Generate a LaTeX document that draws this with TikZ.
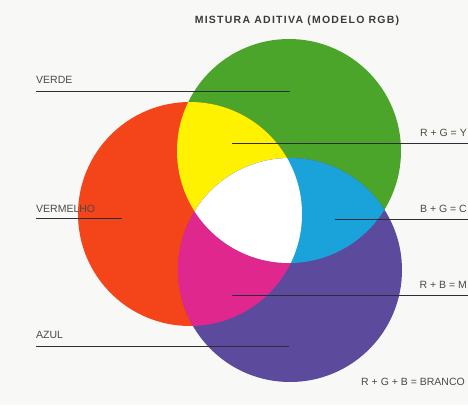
\documentclass[tikz,border=0pt]{standalone}
\usepackage{fontspec}
\setmainfont{Liberation Sans}
\definecolor{bg}{HTML}{F8F8F6}
\definecolor{cgreen}{HTML}{4CA52B}
\definecolor{cred}{HTML}{F4441A}
\definecolor{cblue}{HTML}{5C4A9C}
\definecolor{cyellow}{HTML}{FFF200}
\definecolor{ccyan}{HTML}{1AA3DB}
\definecolor{cmagenta}{HTML}{E0278E}
\definecolor{txt}{HTML}{4A4A4A}
\definecolor{ln}{HTML}{2E2E3A}
\begin{document}
\begin{tikzpicture}[x=1pt,y=-1pt,
  lbl/.style={inner sep=0pt,text=txt,font=\fontsize{10.5}{12}\selectfont},
  leader/.style={draw=ln,line width=0.8pt}]
\fill[bg] (0,0) rectangle (468,405);
\useasboundingbox (0,0) rectangle (468,405);
\coordinate (cg) at (289,151);
\coordinate (cr) at (190,214);
\coordinate (cb) at (290,270);
\def\rad{112pt}
\fill[cgreen] (cg) circle (\rad);
\fill[cred] (cr) circle (\rad);
\fill[cblue] (cb) circle (\rad);
\begin{scope}\clip (cr) circle (\rad); \fill[cyellow] (cg) circle (\rad);\end{scope}
\begin{scope}\clip (cr) circle (\rad); \fill[cmagenta] (cb) circle (\rad);\end{scope}
\begin{scope}\clip (cg) circle (\rad); \fill[ccyan] (cb) circle (\rad);\end{scope}
\begin{scope}\clip (cg) circle (\rad); \clip (cr) circle (\rad); \fill[white] (cb) circle (\rad);\end{scope}
% title
\node[inner sep=0pt,anchor=base,text=txt!80!black,font=\fontsize{10.5}{12}\selectfont\bfseries\addfontfeature{LetterSpace=12}] (title) at (297,23) {MISTURA ADITIVA (MODELO RGB)};
% left labels
\node[lbl,anchor=base west] (verde) at (36,83) {VERDE};
\node[lbl,anchor=base west] (verm) at (36,212) {VERMELHO};
\node[lbl,anchor=base west] (azul) at (36,338) {AZUL};
\coordinate (v1) at (36,91); \coordinate (v2) at (290,91);
\coordinate (m1) at (36,218); \coordinate (m2) at (122,218);
\coordinate (a1) at (36,346); \coordinate (a2) at (289,346);
\draw[leader] (v1) -- (v2);
\draw[leader] (m1) -- (m2);
\draw[leader] (a1) -- (a2);
% right labels
\node[lbl,anchor=base east] (rgy) at (467,136) {R + G = Y};
\node[lbl,anchor=base east] (bgc) at (467,212) {B + G = C};
\node[lbl,anchor=base east] (rbm) at (467,288) {R + B = M};
\node[lbl,anchor=base east] (rgb) at (465,385) {R + G + B = BRANCO};
\coordinate (y1) at (232,143); \coordinate (y2) at (468,143);
\coordinate (c1) at (335,219); \coordinate (c2) at (468,219);
\coordinate (p1) at (232,295); \coordinate (p2) at (468,295);
\draw[leader] (y1) -- (y2);
\draw[leader] (c1) -- (c2);
\draw[leader] (p1) -- (p2);
\end{tikzpicture}
\end{document}
